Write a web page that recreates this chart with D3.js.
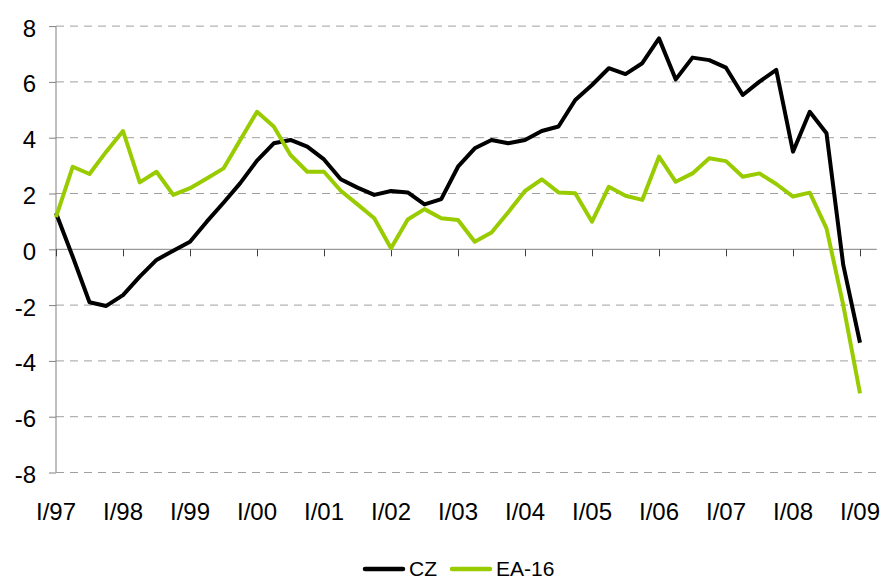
<!DOCTYPE html>
<html>
<head>
<meta charset="utf-8">
<script src="https://cdn.jsdelivr.net/npm/d3@7"></script>
<style>
  body { margin: 0; background: #fff; }
  text { font-family: Arial, "Liberation Sans", sans-serif; }
</style>
</head>
<body>
<div id="chart"></div>
<script>
// quarterly growth, I/97 .. I/09
const years = ['97', '98', '99', '00', '01', '02', '03', '04', '05', '06', '07', '08', '09'];
const tickLabels = ['I/97', 'I/98', 'I/99', 'I/00', 'I/01', 'I/02', 'I/03', 'I/04', 'I/05', 'I/06', 'I/07', 'I/08', 'I/09'];
const yTicks = [-8, -6, -4, -2, 0, 2, 4, 6, 8];

const czValues = [
    1.3, -0.27, -1.9, -2.03, -1.64, -0.98, -0.38, -0.05,
    0.27, 0.99, 1.67, 2.37, 3.18, 3.8, 3.92, 3.68,
    3.22, 2.51, 2.21, 1.95, 2.09, 2.04, 1.61, 1.8,
    2.96, 3.62, 3.92, 3.8, 3.92, 4.24, 4.4, 5.35,
    5.89, 6.49, 6.28, 6.67, 7.56, 6.09, 6.87, 6.78,
    6.51, 5.53, 6.01, 6.43, 3.5, 4.93, 4.16, -0.56,
    -3.35
];
const eaValues = [
    1.15, 2.96, 2.7, 3.5, 4.24, 2.4, 2.78, 1.95,
    2.19, 2.54, 2.9, 3.92, 4.93, 4.4, 3.38, 2.78,
    2.78, 2.1, 1.61, 1.11, 0.04, 1.07, 1.44, 1.11,
    1.05, 0.27, 0.6, 1.33, 2.09, 2.51, 2.04, 2.01,
    0.99, 2.24, 1.92, 1.77, 3.32, 2.42, 2.72, 3.26,
    3.16, 2.6, 2.72, 2.34, 1.89, 2.03, 0.75, -2.0,
    -5.16
];

const series = [
    { name: 'CZ', values: czValues, color: '#000000' },
    { name: 'EA-16', values: eaValues, color: '#99cc00' }
];

// category list: I/97, II/97, ... I/09
const quarterNames = ['I', 'II', 'III', 'IV'];
const categories = [];
years.forEach((yr, k) => {
    quarterNames.forEach((q) => {
        if (k < years.length - 1 || q === 'I') categories.push(q + '/' + yr);
    });
});

const width = 881;
const height = 581;
const plotLeft = 56;
const plotRight = 876.75;
const plotTop = 26.1;
const plotBottom = 472.5;

const svg = d3.select('#chart')
    .append('svg')
    .attr('width', width)
    .attr('height', height);

const x = d3.scaleLinear().domain([0, categories.length]).range([plotLeft, plotRight]);
const y = d3.scaleLinear().domain([-8, 8]).range([plotBottom, plotTop]);

// dashed gridlines
svg.append('g')
    .selectAll('line')
    .data(yTicks.filter((v) => v !== 0))
    .enter()
    .append('line')
    .attr('x1', plotLeft)
    .attr('x2', plotRight)
    .attr('y1', (d) => y(d))
    .attr('y2', (d) => y(d))
    .attr('stroke', '#a0a0a0')
    .attr('stroke-width', 1)
    .attr('stroke-dasharray', '8,6');

// y axis
const yAxis = svg.append('g')
    .attr('transform', `translate(${plotLeft},0)`)
    .call(d3.axisLeft(y).tickValues(yTicks).tickSize(7).tickFormat(''));
yAxis.select('.domain').attr('stroke', '#808080').attr('d', `M0,${plotTop}V${plotBottom}`);
yAxis.selectAll('.tick line').attr('stroke', '#808080');

svg.append('g')
    .selectAll('text')
    .data(yTicks)
    .enter()
    .append('text')
    .attr('x', 36)
    .attr('y', (d) => y(d) + 10.5)
    .attr('text-anchor', 'end')
    .style('font-size', '24px')
    .attr('fill', '#000')
    .text((d) => d);

// x axis at zero
const tickIdx = tickLabels.map((t) => categories.indexOf(t));
const xAxis = svg.append('g')
    .attr('transform', `translate(0,${y(0)})`)
    .call(d3.axisBottom(x).tickValues(tickIdx).tickSize(7).tickFormat(''));
xAxis.select('.domain').attr('stroke', '#808080').attr('d', `M${plotLeft},0H${plotRight}`);
xAxis.selectAll('.tick line').attr('stroke', '#404040');

svg.append('g')
    .selectAll('text')
    .data(tickLabels)
    .enter()
    .append('text')
    .attr('x', (d) => x(categories.indexOf(d)))
    .attr('y', 520)
    .attr('text-anchor', 'middle')
    .style('font-size', '24px')
    .attr('fill', '#000')
    .text((d) => d);

// lines
const line = d3.line()
    .x((d, i) => x(i))
    .y((d) => y(d));

svg.append('g')
    .selectAll('path')
    .data(series)
    .enter()
    .append('path')
    .attr('fill', 'none')
    .attr('stroke', (d) => d.color)
    .attr('stroke-width', 4)
    .attr('stroke-linejoin', 'round')
    .attr('d', (d) => line(d.values));

// legend
const legendItems = [
    { s: series[0], lx: 365, tx: 409 },
    { s: series[1], lx: 452, tx: 496 }
];
const legend = svg.append('g')
    .selectAll('g')
    .data(legendItems)
    .enter()
    .append('g');
legend.append('line')
    .attr('x1', (d) => d.lx)
    .attr('x2', (d) => d.lx + 38)
    .attr('y1', 569)
    .attr('y2', 569)
    .attr('stroke', (d) => d.s.color)
    .attr('stroke-width', 4.5)
    .attr('stroke-linecap', 'round');
legend.append('text')
    .attr('x', (d) => d.tx)
    .attr('y', 576)
    .style('font-size', '21px')
    .attr('fill', '#000')
    .text((d) => d.s.name);
</script>
</body>
</html>
